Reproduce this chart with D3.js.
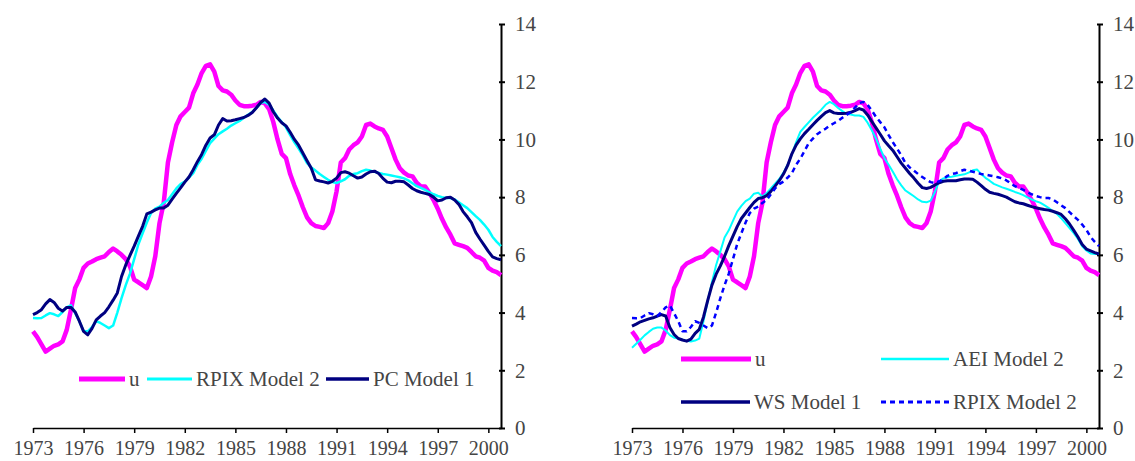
<!DOCTYPE html>
<html>
<head>
<meta charset="utf-8">
<script src="https://cdn.jsdelivr.net/npm/d3@7"></script>
<style>
    body { margin: 0; background: #fff; }
    .axis text { font-family: "Liberation Serif", "Times New Roman", serif; font-size: 21px; fill: #454545; }
    .axis.x-axis text { font-size: 20px; }
    .axis path, .axis line { stroke: #000; }
    .legend text { font-family: "Liberation Serif", "Times New Roman", serif; font-size: 21px; fill: #454545; }
</style>
</head>
<body>
<div id="chart"></div>
<script>
// quarterly data, 1973Q1 .. 2000Q4 (4 values per line = one year)
var vFirstYear = 1973;
var vTickYears = [1973, 1976, 1979, 1982, 1985, 1988, 1991, 1994, 1997, 2000];
var vYTicks = [0, 2, 4, 6, 8, 10, 12, 14];

var vU = [
    3.35, 3.15, 2.90, 2.65,   // 1973
    2.75, 2.85, 2.90, 3.00,
    3.40, 4.10, 4.85, 5.15,   // 1975
    5.55, 5.70, 5.77, 5.85,
    5.90, 5.95, 6.10, 6.22,
    6.12, 6.00, 5.85, 5.60,
    5.14, 5.05, 4.95, 4.85,
    5.25, 5.95, 7.10, 7.80,   // 1980
    9.20, 9.90, 10.5, 10.8,
    10.95, 11.1, 11.6, 11.9,
    12.3, 12.55, 12.6, 12.35,
    11.85, 11.7, 11.66, 11.55,
    11.35, 11.2, 11.15, 11.15, // 1985
    11.17, 11.2, 11.3, 11.25,
    11.05, 10.6, 10.0, 9.50,
    9.35, 8.80, 8.40, 8.05,
    7.65, 7.30, 7.10, 7.00,
    6.97, 6.93, 7.10, 7.50,   // 1990
    8.20, 9.20, 9.35, 9.65,
    9.80, 9.90, 10.1, 10.5,
    10.55, 10.45, 10.38, 10.33,
    10.1, 9.70, 9.30, 9.00,
    8.85, 8.75, 8.72, 8.50,   // 1995
    8.37, 8.37, 8.15, 7.90,
    7.60, 7.25, 6.95, 6.70,
    6.40, 6.35, 6.30, 6.24,
    6.10, 5.95, 5.90, 5.80,
    5.55, 5.45, 5.40, 5.30    // 2000
];

var vRpix2 = [
    3.81, 3.80, 3.81, 3.90,
    3.98, 3.94, 3.88, 4.02,
    4.18, 4.25, 3.98, 3.70,
    3.35, 3.35, 3.50, 3.70,
    3.64, 3.55, 3.46, 3.55,
    4.00, 4.50, 4.95, 5.35,
    5.85, 6.37, 6.75, 7.12,
    7.45, 7.60, 7.67, 7.80,
    7.90, 8.10, 8.30, 8.45,
    8.54, 8.68, 8.83, 9.12,
    9.33, 9.60, 9.87, 10.03,
    10.18, 10.28, 10.37, 10.48,
    10.56, 10.64, 10.75, 10.85,
    10.95, 11.10, 11.26, 11.30,
    11.20, 11.00, 10.78, 10.60,
    10.42, 10.15, 9.90, 9.68,
    9.45, 9.18, 9.03, 8.92,
    8.80, 8.70, 8.60, 8.52,
    8.49, 8.55, 8.62, 8.74,
    8.80, 8.83, 8.90, 8.95,
    8.92, 8.88, 8.84, 8.80,
    8.78, 8.75, 8.72, 8.69,
    8.65, 8.58, 8.48, 8.38,
    8.32, 8.25, 8.17, 8.10,
    8.04, 8.00, 7.97, 7.97,
    7.92, 7.82, 7.72, 7.62,
    7.48, 7.34, 7.21, 7.05,
    6.87, 6.62, 6.45, 6.30
];

var vPc1 = [
    3.93, 4.00, 4.10, 4.30,
    4.45, 4.35, 4.15, 4.05,
    4.18, 4.18, 4.02, 3.70,
    3.35, 3.23, 3.45, 3.75,
    3.88, 4.00, 4.20, 4.43,
    4.68, 5.25, 5.65, 5.98,
    6.30, 6.65, 6.99, 7.42,
    7.48, 7.56, 7.62, 7.62,
    7.72, 7.93, 8.13, 8.32,
    8.52, 8.70, 8.95, 9.23,
    9.48, 9.80, 10.05, 10.16,
    10.50, 10.72, 10.64, 10.65,
    10.68, 10.72, 10.76, 10.83,
    10.93, 11.10, 11.28, 11.40,
    11.26, 10.96, 10.74, 10.58,
    10.47, 10.25, 10.00, 9.80,
    9.53, 9.26, 9.00, 8.60,
    8.56, 8.53, 8.49, 8.55,
    8.66, 8.85, 8.88, 8.83,
    8.74, 8.66, 8.70, 8.80,
    8.88, 8.90, 8.82, 8.65,
    8.52, 8.50, 8.55, 8.55,
    8.53, 8.42, 8.30, 8.22,
    8.17, 8.13, 8.09, 8.00,
    7.87, 7.90, 7.98, 8.00,
    7.90, 7.75, 7.50, 7.32,
    7.12, 6.78, 6.55, 6.34,
    6.12, 5.93, 5.87, 5.83
];

var vAei2 = [
    2.78, 2.92, 3.06, 3.21,
    3.33, 3.44, 3.48, 3.48,
    3.38, 3.22, 3.13, 3.10,
    3.06, 3.02, 3.00, 3.03,
    3.10, 3.71, 4.40, 5.05,
    5.65, 6.12, 6.60, 6.85,
    7.18, 7.50, 7.70, 7.86,
    7.95, 8.12, 8.15, 8.02,
    8.14, 8.30, 8.47, 8.63,
    8.85, 9.12, 9.48, 9.90,
    10.26, 10.43, 10.59, 10.75,
    10.89, 11.03, 11.20, 11.30,
    11.22, 11.09, 10.98, 10.89,
    10.86, 10.83, 10.83, 10.78,
    10.58, 10.32, 10.03, 9.68,
    9.35, 9.12, 8.88, 8.62,
    8.41, 8.23, 8.13, 8.03,
    7.92, 7.84, 7.82, 7.88,
    8.18, 8.55, 8.65, 8.69,
    8.71, 8.74, 8.77, 8.79,
    8.85, 8.93, 8.96, 8.80,
    8.67, 8.57, 8.46, 8.40,
    8.34, 8.29, 8.24, 8.18,
    8.13, 8.07, 7.99, 7.92,
    7.86, 7.81, 7.72, 7.63,
    7.52, 7.42, 7.27, 7.10,
    6.93, 6.75, 6.55, 6.30,
    6.15, 6.05, 6.03, 6.03
];

var vWs1 = [
    3.53, 3.60, 3.68, 3.73,
    3.78, 3.82, 3.88, 3.93,
    3.88, 3.48, 3.24, 3.10,
    3.05, 3.01, 3.08, 3.28,
    3.42, 3.85, 4.42, 4.95,
    5.33, 5.62, 5.95, 6.32,
    6.65, 6.98, 7.26, 7.45,
    7.64, 7.82, 7.95, 7.98,
    8.05, 8.20, 8.38, 8.57,
    8.80, 9.10, 9.50, 9.80,
    10.02, 10.20, 10.35, 10.51,
    10.66, 10.80, 10.93, 11.00,
    10.92, 10.90, 10.90, 10.91,
    10.94, 11.00, 11.07, 11.02,
    10.85, 10.62, 10.40, 10.18,
    9.95, 9.78, 9.62, 9.40,
    9.18, 9.00, 8.82, 8.66,
    8.48, 8.33, 8.30, 8.34,
    8.42, 8.50, 8.55, 8.57,
    8.57, 8.57, 8.60, 8.63,
    8.63, 8.62, 8.52, 8.40,
    8.27, 8.17, 8.13, 8.10,
    8.05, 8.00, 7.92, 7.84,
    7.80, 7.77, 7.72, 7.67,
    7.63, 7.60, 7.57, 7.55,
    7.51, 7.46, 7.40, 7.25,
    7.07, 6.85, 6.62, 6.36,
    6.20, 6.14, 6.08, 6.03
];

(function (window, document) {
    "use strict";

    var vWidth = 1135, vHeight = 461;
    var cMagenta = "#ff00ff", cCyan = "#00ffff", cNavy = "#000080", cBlue = "#0000ff";

    var svg = d3.select("#chart")
        .append("svg")
        .attr("width", vWidth)
        .attr("height", vHeight);

    // panels share the y scale, x differs only in range
    var vY = d3.scaleLinear().domain([0, 14]).range([428, 24]);

    function drawPanel(aLeft, aRight, aSeries, aLegend) {
        var vX = d3.scaleLinear()
            .domain([vFirstYear, 2000.75])
            .range([aLeft, aRight]);

        var g = svg.append("g");

        // x axis
        var gx = g.append("g")
            .attr("class", "axis x-axis")
            .attr("transform", "translate(0," + vY(0) + ")")
            .call(d3.axisBottom(vX)
                .tickValues(vTickYears)
                .tickFormat(d3.format("d"))
                .tickSizeInner(5)
                .tickSizeOuter(0)
                .tickPadding(8));
        gx.select(".domain").attr("stroke-width", 1.5);
        gx.selectAll(".tick line").attr("stroke-width", 1.5);

        // y axis on the right side
        var gy = g.append("g")
            .attr("class", "axis")
            .attr("transform", "translate(" + aRight + ",0)")
            .call(d3.axisRight(vY)
                .tickValues(vYTicks)
                .tickSizeInner(4)
                .tickSizeOuter(0)
                .tickPadding(10));
        gy.select(".domain").attr("stroke-width", 2);
        gy.selectAll(".tick line").attr("x1", -2).attr("stroke-width", 2);

        var vLine = d3.line()
            .x(function (aItem, aIndex) { return vX(vFirstYear + aIndex / 4); })
            .y(function (aItem) { return vY(aItem); });

        aSeries.forEach(function (aS) {
            g.append("path")
                .datum(aS.values)
                .attr("fill", "none")
                .attr("stroke", aS.color)
                .attr("stroke-width", aS.width)
                .attr("stroke-dasharray", aS.dash || null)
                .attr("stroke-linejoin", "round")
                .attr("d", vLine);
        });

        // legend
        var gl = g.append("g").attr("class", "legend");
        aLegend.forEach(function (aL) {
            gl.append("line")
                .attr("x1", aL.x1).attr("x2", aL.x2)
                .attr("y1", aL.y).attr("y2", aL.y)
                .attr("stroke", aL.s.color)
                .attr("stroke-width", aL.s.width + 0.5)
                .attr("stroke-dasharray", aL.s.dash || null);
            gl.append("text")
                .attr("x", aL.x2 + 4)
                .attr("y", aL.y + 7)
                .text(aL.s.name);
        });
    }

    // left panel
    var sU = { name: "u", values: vU, color: cMagenta, width: 4.5 };
    var sRpixL = { name: "RPIX Model 2", values: vRpix2, color: cCyan, width: 2.5 };
    var sPc1 = { name: "PC Model 1", values: vPc1, color: cNavy, width: 3 };
    drawPanel(33, 501, [sU, sRpixL, sPc1], [
        { s: sU, x1: 79, x2: 125, y: 379 },
        { s: sRpixL, x1: 147, x2: 192, y: 379 },
        { s: sPc1, x1: 326, x2: 369, y: 379 }
    ]);

    // right panel
    var sAei2 = { name: "AEI Model 2", values: vAei2, color: cCyan, width: 2 };
    var sWs1 = { name: "WS Model 1", values: vWs1, color: cNavy, width: 3 };
    var sRpixR = { name: "RPIX Model 2", values: vRpix2, color: cBlue, width: 2.5, dash: "5,4" };
    drawPanel(632, 1099, [sU, sAei2, sWs1, sRpixR], [
        { s: sU, x1: 681, x2: 751, y: 359 },
        { s: sAei2, x1: 881, x2: 949, y: 359 },
        { s: sWs1, x1: 681, x2: 750, y: 402 },
        { s: sRpixR, x1: 881, x2: 949, y: 402 }
    ]);

})(window, document);
</script>
</body>
</html>
